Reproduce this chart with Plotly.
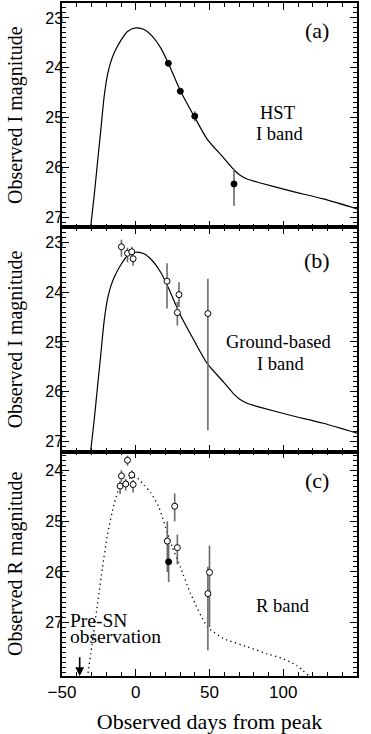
from plotly import graph_objects as go
from plotly.subplots import make_subplots

# I-band light-curve template (same curve in panels a and b)
tmpl_i_day = [-30.8, -28.2, -25.9, -23.6, -21.4, -19.1, -16.9, -14.6, -10.1, -5.6, 0.0,
              5.6, 11.3, 16.9, 22.1, 30.4, 40.1, 48.4, 59.7, 66.4, 70.5, 75.5, 84.5, 104.7, 127.2, 150.0]
tmpl_i_mag = [27.25, 26.57, 25.89, 25.22, 24.57, 24.13, 23.88, 23.70, 23.45, 23.27, 23.20,
              23.23, 23.37, 23.60, 23.91, 24.47, 25.00, 25.43, 25.81, 26.04, 26.15, 26.23, 26.31, 26.47, 26.63, 26.83]

# R-band template (dotted, panel c)
tmpl_r_day = [-32.8, -29.0, -25.9, -22.5, -19.1, -14.7, -11.3, -6.0, 0.0, 5.6, 10.1, 15.7,
              20.3, 24.8, 30.4, 37.2, 48.4, 59.7, 75.5, 89.0, 100.0, 109.0, 117.5]
tmpl_r_mag = [28.10, 27.30, 26.63, 25.90, 25.25, 24.66, 24.35, 24.17, 24.12, 24.28, 24.43, 24.72,
              25.12, 25.51, 25.92, 26.43, 27.08, 27.32, 27.48, 27.62, 27.72, 27.85, 28.06]

# (a) HST I band
hst_day = [22.1, 30.2, 40.0, 66.6]
hst_mag = [23.91, 24.47, 24.97, 26.33]
hst_err_up = [0.05, 0.05, 0.10, 0.31]
hst_err_dn = [0.05, 0.05, 0.10, 0.44]

# (b) ground-based I band
gi_day = [-9.7, -5.6, -2.7, -1.8, 21.2, 28.2, 29.3, 48.9]
gi_mag = [23.09, 23.22, 23.19, 23.33, 23.78, 24.41, 24.05, 24.43]
gi_err_up = [0.14, 0.11, 0.10, 0.06, 0.36, 0.21, 0.25, 0.70]
gi_err_dn = [0.20, 0.18, 0.11, 0.14, 0.55, 0.26, 0.25, 2.34]

# (c) R band, open and filled points
r_day = [-10.6, -9.7, -6.8, -5.6, -2.7, -1.8, 21.4, 26.4, 28.2, 48.9, 50.0]
r_mag = [24.30, 24.10, 24.26, 23.79, 24.08, 24.27, 25.39, 24.70, 25.52, 26.43, 26.01]
r_err_up = [0.10, 0.11, 0.10, 0.09, 0.09, 0.09, 0.39, 0.25, 0.26, 0.53, 0.53]
r_err_dn = [0.16, 0.11, 0.13, 0.11, 0.08, 0.16, 0.61, 0.30, 0.33, 1.12, 1.08]
rf_day = [22.3]
rf_mag = [25.80]
rf_err_up = [0.35]
rf_err_dn = [0.40]

pre_sn_day = -38
x_ticks = [-50, 0, 50, 100, 150]

SERIF = "Liberation Serif"
SANS = "Liberation Sans"
ERR_COL = "#6a6a6a"


def err(up, dn):
    return dict(type="data", symmetric=False, array=dn, arrayminus=up,
                color=ERR_COL, thickness=1.6, width=0)


fig = make_subplots(rows=3, cols=1, shared_xaxes=True, vertical_spacing=0)

solid = dict(color="black", width=1.2, shape="spline", smoothing=0.7)
fig.add_trace(go.Scatter(x=tmpl_i_day, y=tmpl_i_mag, mode="lines", line=solid), row=1, col=1)
fig.add_trace(go.Scatter(x=tmpl_i_day, y=tmpl_i_mag, mode="lines", line=solid), row=2, col=1)
fig.add_trace(go.Scatter(x=tmpl_r_day, y=tmpl_r_mag, mode="lines",
                         line=dict(color="black", width=1.3, dash="1.3px,3.4px",
                                   shape="spline", smoothing=0.6)), row=3, col=1)

filled = dict(symbol="circle", size=6, color="black", line=dict(color="black", width=1))
hollow = dict(symbol="circle", size=6, color="white", line=dict(color="black", width=1))

fig.add_trace(go.Scatter(x=hst_day, y=hst_mag, mode="markers", marker=filled,
                         error_y=err(hst_err_up, hst_err_dn)), row=1, col=1)
fig.add_trace(go.Scatter(x=gi_day, y=gi_mag, mode="markers", marker=hollow,
                         error_y=err(gi_err_up, gi_err_dn)), row=2, col=1)
fig.add_trace(go.Scatter(x=r_day, y=r_mag, mode="markers", marker=hollow,
                         error_y=err(r_err_up, r_err_dn)), row=3, col=1)
fig.add_trace(go.Scatter(x=rf_day, y=rf_mag, mode="markers", marker=filled,
                         error_y=err(rf_err_up, rf_err_dn)), row=3, col=1)

axis_common = dict(showgrid=False, zeroline=False, showline=True, linecolor="black", linewidth=1.5,
                   mirror="ticks", ticks="inside", ticklen=7, tickwidth=1, tickcolor="black")

fig.update_xaxes(range=[-50, 150], tickvals=x_ticks,
                 minor=dict(ticks="inside", ticklen=4, dtick=10, tick0=0, tickcolor="black"),
                 tickfont=dict(family=SANS, size=17, color="black"), **axis_common)
fig.update_xaxes(title=dict(text="Observed days from peak", font=dict(family=SERIF, size=22, color="black"),
                            standoff=14), row=3, col=1)

y_minor = dict(ticks="inside", ticklen=4, dtick=0.1, tick0=0, tickcolor="black")
y_title_font = dict(family=SERIF, size=20, color="black")
fig.update_yaxes(tickfont=dict(family=SANS, size=16, color="black"), minor=y_minor,
                 ticklabelstandoff=-6, **axis_common)
fig.update_yaxes(range=[27.2, 22.7], tickvals=[23, 24, 25, 26, 27], row=1, col=1,
                 title=dict(text="Observed I magnitude", font=y_title_font, standoff=17))
fig.update_yaxes(range=[27.2, 22.7], tickvals=[23, 24, 25, 26, 27], row=2, col=1,
                 title=dict(text="Observed I magnitude", font=y_title_font, standoff=17))
fig.update_yaxes(range=[28.06, 23.62], tickvals=[24, 25, 26, 27], row=3, col=1,
                 title=dict(text="Observed R magnitude", font=y_title_font, standoff=17))


def label(text, x, y, row, size=18.5):
    ax = "" if row == 1 else str(row)
    fig.add_annotation(text=text, x=x, y=y, xref="x%s domain" % ax, yref="y%s domain" % ax,
                       showarrow=False, xanchor="center", yanchor="middle",
                       font=dict(family=SERIF, size=size, color="black"))


label("(a)", 0.863, 0.878, 1, 22)
label("HST", 0.732, 0.51, 1)
label("I band", 0.736, 0.415, 1)
label("(b)", 0.863, 0.852, 2, 22)
label("Ground-based", 0.736, 0.49, 2)
label("I band", 0.739, 0.393, 2)
label("(c)", 0.863, 0.871, 3, 22)
label("R band", 0.749, 0.31, 3)

fig.add_annotation(text="Pre-SN", x=0.02, y=0.248, xref="x3 domain", yref="y3 domain",
                   showarrow=False, xanchor="left", yanchor="middle",
                   font=dict(family=SERIF, size=19.5, color="black"))
fig.add_annotation(text="observation", x=0.02, y=0.178, xref="x3 domain", yref="y3 domain",
                   showarrow=False, xanchor="left", yanchor="middle",
                   font=dict(family=SERIF, size=19.5, color="black"))
fig.add_annotation(x=pre_sn_day, y=28.06, ax=pre_sn_day, ay=27.66, xref="x3", yref="y3",
                   axref="x3", ayref="y3", text="", showarrow=True,
                   arrowhead=2, arrowsize=1.1, arrowwidth=1.6, arrowcolor="black")

fig.update_layout(width=371, height=734, showlegend=False,
                  paper_bgcolor="white", plot_bgcolor="white",
                  margin=dict(l=62, r=14, t=1, b=58))

fig.write_html("out.html", config={"displayModeBar": False},
               post_script="document.body.style.margin='0';")
